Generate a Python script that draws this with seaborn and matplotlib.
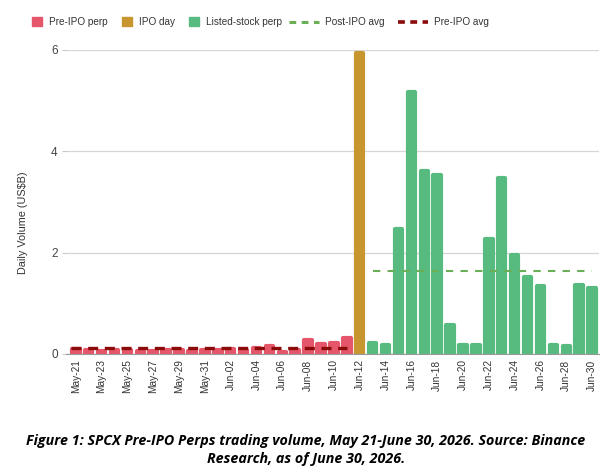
import numpy as np
import pandas as pd
from matplotlib import pyplot as plt
from matplotlib.patches import Patch
from matplotlib.lines import Line2D
import seaborn as sns

pre_dates = ['May-21', 'May-22', 'May-23', 'May-24', 'May-25', 'May-26', 'May-27',
             'May-28', 'May-29', 'May-30', 'May-31', 'Jun-01', 'Jun-02', 'Jun-03',
             'Jun-04', 'Jun-05', 'Jun-06', 'Jun-07', 'Jun-08', 'Jun-09', 'Jun-10', 'Jun-11']
pre_vol = [0.09, 0.07, 0.06, 0.08, 0.07, 0.05, 0.06, 0.07, 0.08, 0.05, 0.07, 0.08,
           0.10, 0.08, 0.11, 0.15, 0.04, 0.08, 0.28, 0.20, 0.22, 0.31]
ipo_dates = ['Jun-12']
ipo_vol = [5.93]
post_dates = ['Jun-13', 'Jun-14', 'Jun-15', 'Jun-16', 'Jun-17', 'Jun-18', 'Jun-19',
              'Jun-20', 'Jun-21', 'Jun-22', 'Jun-23', 'Jun-24', 'Jun-25', 'Jun-26',
              'Jun-27', 'Jun-28', 'Jun-29', 'Jun-30']
post_vol = [0.22, 0.17, 2.46, 5.17, 3.60, 3.53, 0.57, 0.17, 0.18, 2.27, 3.48, 1.96,
            1.52, 1.33, 0.17, 0.16, 1.35, 1.31]

phases = ['Pre-IPO perp', 'IPO day', 'Listed-stock perp']
colors = {'Pre-IPO perp': '#E5566A', 'IPO day': '#C8962F', 'Listed-stock perp': '#57BB7F'}
post_avg_color = '#6AAE55'
pre_avg_color = '#8B0A0A'

df = pd.DataFrame({
    'date': pre_dates + ipo_dates + post_dates,
    'volume': pre_vol + ipo_vol + post_vol,
    'phase': [phases[0]] * len(pre_dates) + [phases[1]] * len(ipo_dates) + [phases[2]] * len(post_dates),
})

plt.rcParams['font.family'] = ['Liberation Sans', 'DejaVu Sans']
fig = plt.figure(figsize=(6.12, 4.75), dpi=100)
ax = fig.add_axes([0.108, 0.255, 0.87, 0.64])

sns.barplot(data=df, x='date', y='volume', hue='phase', palette=colors, saturation=1,
            dodge=False, width=0.58, legend=False, ax=ax)
for p in ax.patches:
    p.set_edgecolor(p.get_facecolor())
    p.set_linewidth(3)
    p.set_joinstyle('round')

n_pre = len(pre_dates)
pre_x = np.arange(n_pre)
post_x = np.arange(n_pre + 1, len(df))
ax.plot([pre_x[0] - 0.4, pre_x[-1]], [np.mean(pre_vol)] * 2, color=pre_avg_color,
        lw=2.4, dashes=(3, 2), zorder=4)
ax.plot([post_x[0], post_x[-1]], [np.mean(post_vol)] * 2, color=post_avg_color,
        lw=1.5, dashes=(3.5, 3.5), zorder=4)

ax.set_ylim(0, 6)
ax.set_xlim(-0.75, len(df) - 0.5)
ax.set_yticks([0, 2, 4, 6])
ax.set_xticks(range(0, len(df), 2))
ax.set_xticklabels(df['date'][::2], rotation=90, fontsize=7.3, color='#333333')
ax.tick_params(axis='y', labelsize=8.5, colors='#444444', length=3, width=0.6,
               pad=3)
ax.tick_params(axis='y', color='#bbbbbb')
ax.tick_params(axis='x', length=0, pad=4)
ax.yaxis.grid(True, color='#d6d6d6', lw=0.9)
ax.set_axisbelow(True)
for s in ['top', 'right', 'left']:
    ax.spines[s].set_visible(False)
ax.spines['bottom'].set_color('#9a9a9a')
ax.set_xlabel('')
ax.set_ylabel('Daily Volume (US$B)', fontsize=7.8, color='#333333')
ax.yaxis.set_label_coords(-0.072, 0.43)

# legend in two parts so the squares and the dashed lines get their own handle lengths
bar_handles = [Patch(color=colors[k]) for k in phases]
leg1 = fig.legend(bar_handles, phases, loc='center right', bbox_to_anchor=(0.46, 0.953),
                  ncol=3, frameon=False, fontsize=7.2, handlelength=1.0, handleheight=1.0,
                  columnspacing=1.4, handletextpad=0.7, labelcolor='#333333',
                  borderaxespad=0, borderpad=0)
line_handles = [
    Line2D([0], [0], color=post_avg_color, lw=2.2, dashes=(2.2, 1.8)),
    Line2D([0], [0], color=pre_avg_color, lw=2.6, dashes=(1.9, 1.5)),
]
leg2 = fig.legend(line_handles, ['Post-IPO avg', 'Pre-IPO avg'], loc='center left',
                  bbox_to_anchor=(0.473, 0.953), ncol=2, frameon=False, fontsize=7.2,
                  handlelength=3.0, columnspacing=1.3, handletextpad=0.6,
                  labelcolor='#333333', borderaxespad=0, borderpad=0)

fig.text(0.5, 0.053, 'Figure 1: SPCX Pre-IPO Perps trading volume, May 21-June 30, 2026. Source: Binance\nResearch, as of June 30, 2026.',
         ha='center', va='center', fontsize=10.3, fontweight='bold', fontstyle='italic',
         linespacing=1.4, family=['Open Sans', 'DejaVu Sans'])

fig.savefig('out.png', dpi=100)
